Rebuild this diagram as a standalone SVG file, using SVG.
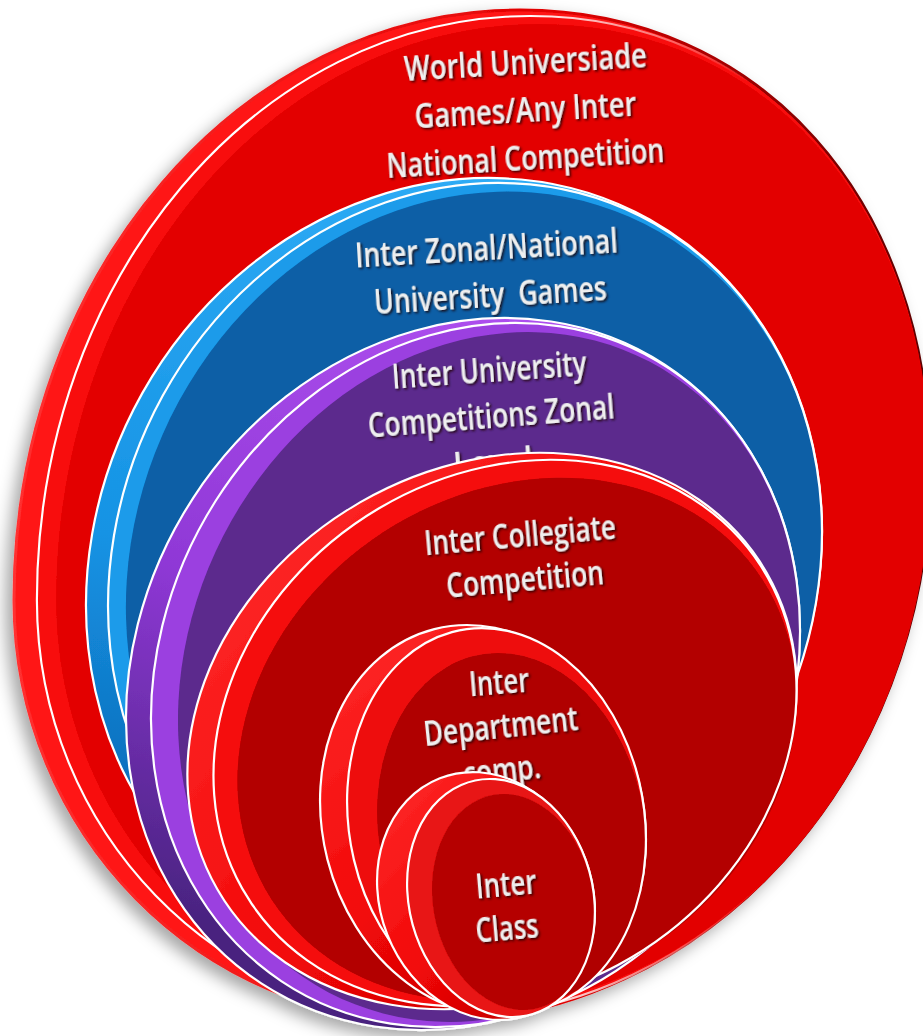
<svg xmlns="http://www.w3.org/2000/svg" width="923" height="1036" viewBox="0 0 923 1036">
<defs>
  <filter id="sh" x="-15%" y="-15%" width="130%" height="130%">
    <feDropShadow dx="-7" dy="7" stdDeviation="8" flood-color="#000" flood-opacity="0.35"/>
  </filter>
  <filter id="ts" x="-10%" y="-40%" width="120%" height="180%">
    <feDropShadow dx="1.6" dy="1.6" stdDeviation="0.9" flood-color="#1a0000" flood-opacity="0.9"/>
  </filter>
  <path id="outerShape" d="M520,10 C760,10 930,200 930,470 C930,775 706,1022 430,1022 C200,1022 14,833 14,600 C14,274 241,10 520,10 Z"/>
  <linearGradient id="edgeOuter" x1="0" y1="0" x2="1" y2="0">
    <stop offset="0" stop-color="#ff3030"/>
    <stop offset="0.6" stop-color="#e00000"/>
    <stop offset="1" stop-color="#5a0000"/>
  </linearGradient>
  <linearGradient id="wOuter" x1="0" y1="0" x2="1" y2="0">
    <stop offset="0" stop-color="#ffffff"/>
    <stop offset="0.55" stop-color="#ffffff"/>
    <stop offset="0.8" stop-color="#ffffff" stop-opacity="0"/>
  </linearGradient>
  <linearGradient id="rimRed" x1="0" y1="0" x2="0.4" y2="1">
    <stop offset="0" stop-color="#ff2a2a"/>
    <stop offset="0.6" stop-color="#f20808"/>
    <stop offset="1" stop-color="#c80000"/>
  </linearGradient>
  <linearGradient id="rimBlue" x1="0" y1="0" x2="0.4" y2="1">
    <stop offset="0" stop-color="#35b2fa"/>
    <stop offset="0.6" stop-color="#1593e4"/>
    <stop offset="1" stop-color="#0b63b0"/>
  </linearGradient>
  <linearGradient id="rimPurple" x1="0" y1="0" x2="0.3" y2="1">
    <stop offset="0" stop-color="#b655f5"/>
    <stop offset="0.55" stop-color="#8f38d6"/>
    <stop offset="1" stop-color="#48237f"/>
  </linearGradient>
</defs>
<style>
  .w{stroke:#ffffff;stroke-width:2.2;vector-effect:non-scaling-stroke}
  .ws{fill:none;stroke:#ffffff;stroke-width:2.2;vector-effect:non-scaling-stroke}
  .t{font-family:"Open Sans","Liberation Sans",sans-serif;font-weight:600;font-size:34px;fill:#efefef;text-anchor:middle;filter:url(#ts)}
</style>
<rect width="923" height="1036" fill="#ffffff"/>
<g filter="url(#sh)">
  <g id="n-world">
    <use href="#outerShape" fill="#ff1717" stroke="url(#edgeOuter)" stroke-width="3"/>
    <use href="#outerShape" transform="translate(930 16) scale(0.975 0.99) translate(-930 -10)" fill="#f80c0c"/>
    <use href="#outerShape" transform="translate(930 24) scale(0.954 0.976) translate(-930 -10)" fill="#e30202"/>
    <use href="#outerShape" transform="translate(930 16) scale(0.975 0.99) translate(-930 -10)" fill="none" stroke="url(#wOuter)" stroke-width="2.2"/>
    <text class="t" x="526" y="74" textLength="243" lengthAdjust="spacingAndGlyphs" transform="rotate(-3.3 526 74)">World Universiade</text>
    <text class="t" x="526" y="122" textLength="222" lengthAdjust="spacingAndGlyphs" transform="rotate(-3.3 526 122)">Games/Any Inter</text>
    <text class="t" x="526" y="170" textLength="278" lengthAdjust="spacingAndGlyphs" transform="rotate(-3.3 526 170)">National Competition</text>
  </g>
  <g id="n-zonal">
    <ellipse class="w" rx="357.4" ry="399.7" transform="translate(454 568) rotate(29.3)" fill="url(#rimBlue)"/>
    <ellipse rx="357.4" ry="399.7" transform="translate(465 569) scale(0.97 0.99) rotate(29.3)" fill="#1a9bea"/>
    <ellipse rx="357.4" ry="399.7" transform="translate(474 571) scale(0.946 0.973) rotate(29.3)" fill="#0a5ea6"/>
    <ellipse class="ws" rx="357.4" ry="399.7" transform="translate(465 569) scale(0.97 0.99) rotate(29.3)"/>
    <text class="t" x="487" y="260" textLength="263" lengthAdjust="spacingAndGlyphs" transform="rotate(-3.3 487 260)">Inter Zonal/National</text>
    <text class="t" x="491" y="307" textLength="233" lengthAdjust="spacingAndGlyphs" transform="rotate(-3.5 491 307)" style="white-space:pre">University  Games</text>
  </g>
  <g id="n-university">
    <ellipse class="w" rx="322.2" ry="369.4" transform="translate(463 674) rotate(33.1)" fill="url(#rimPurple)"/>
    <ellipse rx="322.2" ry="369.4" transform="translate(475.5 675) scale(0.963 0.989) rotate(33.1)" fill="#9b3fe0"/>
    <ellipse rx="322.2" ry="369.4" transform="translate(489 677) scale(0.923 0.969) rotate(33.1)" fill="#5b2a8d"/>
    <ellipse class="ws" rx="322.2" ry="369.4" transform="translate(475.5 675) scale(0.963 0.989) rotate(33.1)"/>
    <text class="t" x="490" y="382" textLength="195" lengthAdjust="spacingAndGlyphs" transform="rotate(-4 490 382)">Inter University</text>
    <text class="t" x="492" y="428" textLength="247" lengthAdjust="spacingAndGlyphs" transform="rotate(-4.5 492 428)">Competitions Zonal</text>
    <text class="t" x="494" y="474" textLength="80" lengthAdjust="spacingAndGlyphs" transform="rotate(-4.5 494 474)">Level</text>
  </g>
  <g id="n-collegiate">
    <ellipse class="w" rx="317" ry="264" transform="translate(492 731) rotate(-30)" fill="url(#rimRed)"/>
    <ellipse rx="317" ry="264" transform="translate(505 733) scale(0.957 0.982) rotate(-30)" fill="#f50c0c"/>
    <ellipse rx="317" ry="264" transform="translate(517 739.5) scale(0.918 0.941) rotate(-30)" fill="#b30000"/>
    <ellipse class="ws" rx="317" ry="264" transform="translate(505 733) scale(0.957 0.982) rotate(-30)"/>
    <text class="t" x="521" y="547" textLength="192" lengthAdjust="spacingAndGlyphs" transform="rotate(-5 521 547)">Inter Collegiate</text>
    <text class="t" x="526" y="591" textLength="158" lengthAdjust="spacingAndGlyphs" transform="rotate(-5 526 591)">Competition</text>
  </g>
  <g id="n-department">
    <ellipse class="w" rx="160.5" ry="197" transform="translate(483 820) rotate(-14.3)" fill="url(#rimRed)"/>
    <ellipse rx="160.5" ry="197" transform="translate(496.5 820.5) scale(0.917 0.987) rotate(-14.3)" fill="#ee1010"/>
    <ellipse rx="160.5" ry="197" transform="translate(511.5 829) scale(0.825 0.903) rotate(-14.3)" fill="#b00000"/>
    <ellipse class="ws" rx="160.5" ry="197" transform="translate(496.5 820.5) scale(0.917 0.987) rotate(-14.3)"/>
    <text class="t" x="500" y="694" textLength="60" lengthAdjust="spacingAndGlyphs" transform="rotate(-4.5 500 694)">Inter</text>
    <text class="t" x="502" y="738" textLength="155" lengthAdjust="spacingAndGlyphs" transform="rotate(-6 502 738)">Department</text>
    <text class="t" x="503" y="782" textLength="78" lengthAdjust="spacingAndGlyphs" transform="rotate(-6 503 782)">comp.</text>
  </g>
  <g id="n-class">
    <ellipse class="w" rx="106" ry="126.5" transform="translate(486 896) rotate(-21.4)" fill="url(#rimRed)"/>
    <ellipse rx="106" ry="126.5" transform="translate(501 898) scale(0.862 0.96) rotate(-21.4)" fill="#e81212"/>
    <ellipse rx="106" ry="126.5" transform="translate(513.5 902) scale(0.748 0.871) rotate(-21.4)" fill="#b50404"/>
    <ellipse class="ws" rx="106" ry="126.5" transform="translate(501 898) scale(0.862 0.96) rotate(-21.4)"/>
    <text class="t" x="507" y="896" textLength="61" lengthAdjust="spacingAndGlyphs" transform="rotate(-5 507 896)">Inter</text>
    <text class="t" x="508" y="940" textLength="63" lengthAdjust="spacingAndGlyphs" transform="rotate(-5 508 940)">Class</text>
  </g>
</g>
<g id="connectors"/>
</svg>
